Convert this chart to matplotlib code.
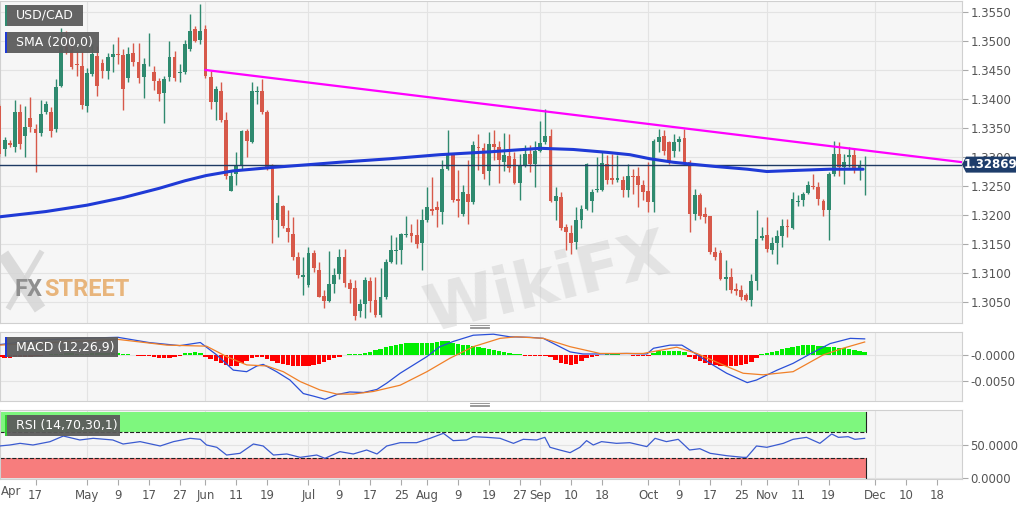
import numpy as np
import pandas as pd
import matplotlib
matplotlib.use('Agg')
import matplotlib.pyplot as plt
from matplotlib.patches import Rectangle, Polygon
from matplotlib.lines import Line2D
from matplotlib.transforms import IdentityTransform

# ---------------- data (x = trading days relative to 2019-05-01) ----------------
first_day = -17  # 2019-04-08
opens = [1.3388, 1.3314, 1.3325, 1.3317, 1.3377, 1.3337, 1.3367, 1.3349, 1.3341, 1.3377,
         1.3377, 1.3348, 1.3423, 1.3489, 1.3484, 1.3461, 1.3457,
         1.3388, 1.3443, 1.3474, 1.3462, 1.3449, 1.3473, 1.3478, 1.3476, 1.3437, 1.3480,
         1.3463, 1.3438, 1.3460, 1.3446, 1.3431, 1.3411, 1.3438, 1.3473, 1.3444, 1.3446,
         1.3486, 1.3520, 1.3501,
         1.3520, 1.3438, 1.3394, 1.3414, 1.3363, 1.3242, 1.3270, 1.3284, 1.3344, 1.3326,
         1.3412, 1.3413, 1.3377, 1.3282, 1.3191, 1.3216, 1.3178, 1.3168, 1.3128, 1.3094,
         1.3079, 1.3135, 1.3106, 1.3060, 1.3052, 1.3081, 1.3099, 1.3128, 1.3082, 1.3074,
         1.3035, 1.3047, 1.3087, 1.3053, 1.3028, 1.3059, 1.3119, 1.3138, 1.3140, 1.3165,
         1.3169, 1.3165, 1.3152, 1.3191, 1.3211, 1.3214, 1.3206, 1.3280, 1.3303, 1.3228,
         1.3202, 1.3237, 1.3222, 1.3318, 1.3316, 1.3276, 1.3323, 1.3318, 1.3291, 1.3301,
         1.3297, 1.3255, 1.3284, 1.3306, 1.3288, 1.3311, 1.3326, 1.3337, 1.3224, 1.3231,
         1.3180, 1.3169, 1.3153, 1.3191, 1.3211, 1.3224, 1.3243, 1.3244, 1.3288, 1.3263,
         1.3261, 1.3261, 1.3243, 1.3268, 1.3268, 1.3251, 1.3242,
         1.3222, 1.3326, 1.3337, 1.3326, 1.3310, 1.3326, 1.3333, 1.3291, 1.3202, 1.3234,
         1.3201, 1.3198, 1.3136, 1.3135, 1.3090, 1.3093, 1.3072, 1.3070, 1.3062, 1.3054,
         1.3087, 1.3161, 1.3165, 1.3139, 1.3152, 1.3163, 1.3181, 1.3178, 1.3223, 1.3226,
         1.3238, 1.3250, 1.3249, 1.3225, 1.3208, 1.3270, 1.3305, 1.3282, 1.3300, 1.3303,
         1.3280, 1.3284]
highs = [1.3392, 1.3334, 1.3329, 1.3399, 1.3391, 1.3388, 1.3403, 1.3357, 1.3398, 1.3397,
         1.3386, 1.3434, 1.3523, 1.3518, 1.3500, 1.3483, 1.3483,
         1.3454, 1.3494, 1.3492, 1.3469, 1.3480, 1.3494, 1.3506, 1.3486, 1.3489, 1.3497,
         1.3497, 1.3471, 1.3514, 1.3457, 1.3437, 1.3440, 1.3500, 1.3483, 1.3460, 1.3501,
         1.3546, 1.3526, 1.3564,
         1.3528, 1.3449, 1.3423, 1.3429, 1.3377, 1.3277, 1.3308, 1.3346, 1.3348, 1.3430,
         1.3423, 1.3434, 1.3381, 1.3288, 1.3234, 1.3217, 1.3208, 1.3197, 1.3137, 1.3128,
         1.3145, 1.3139, 1.3119, 1.3070, 1.3138, 1.3108, 1.3142, 1.3142, 1.3090, 1.3088,
         1.3056, 1.3093, 1.3093, 1.3093, 1.3109, 1.3125, 1.3165, 1.3162, 1.3169, 1.3199,
         1.3185, 1.3193, 1.3211, 1.3249, 1.3265, 1.3225, 1.3294, 1.3346, 1.3306, 1.3277,
         1.3251, 1.3294, 1.3327, 1.3340, 1.3325, 1.3343, 1.3347, 1.3328, 1.3341, 1.3340,
         1.3308, 1.3306, 1.3320, 1.3320, 1.3328, 1.3362, 1.3383, 1.3348, 1.3248, 1.3239,
         1.3185, 1.3182, 1.3214, 1.3217, 1.3289, 1.3245, 1.3300, 1.3308, 1.3303, 1.3306,
         1.3304, 1.3268, 1.3288, 1.3280, 1.3282, 1.3260, 1.3291,
         1.3331, 1.3348, 1.3346, 1.3328, 1.3339, 1.3337, 1.3348, 1.3294, 1.3245, 1.3238,
         1.3214, 1.3199, 1.3145, 1.3139, 1.3122, 1.3108, 1.3082, 1.3079, 1.3065, 1.3099,
         1.3208, 1.3179, 1.3196, 1.3162, 1.3174, 1.3194, 1.3194, 1.3240, 1.3234, 1.3240,
         1.3258, 1.3270, 1.3257, 1.3228, 1.3274, 1.3327, 1.3326, 1.3305, 1.3318, 1.3316,
         1.3294, 1.3301]
lows = [1.3300, 1.3302, 1.3317, 1.3308, 1.3314, 1.3300, 1.3343, 1.3274, 1.3337, 1.3374,
        1.3334, 1.3343, 1.3420, 1.3477, 1.3451, 1.3440, 1.3383,
        1.3377, 1.3440, 1.3406, 1.3437, 1.3434, 1.3446, 1.3460, 1.3381, 1.3429, 1.3457,
        1.3427, 1.3401, 1.3457, 1.3415, 1.3397, 1.3358, 1.3431, 1.3431, 1.3429, 1.3443,
        1.3483, 1.3498, 1.3494,
        1.3437, 1.3383, 1.3363, 1.3360, 1.3262, 1.3241, 1.3251, 1.3280, 1.3300, 1.3324,
        1.3391, 1.3374, 1.3278, 1.3151, 1.3162, 1.3177, 1.3154, 1.3122, 1.3091, 1.3062,
        1.3076, 1.3102, 1.3058, 1.3039, 1.3050, 1.3065, 1.3090, 1.3076, 1.3048, 1.3019,
        1.3025, 1.3022, 1.3033, 1.3025, 1.3025, 1.3056, 1.3117, 1.3116, 1.3116, 1.3162,
        1.3154, 1.3144, 1.3106, 1.3188, 1.3200, 1.3180, 1.3185, 1.3277, 1.3222, 1.3197,
        1.3199, 1.3185, 1.3219, 1.3277, 1.3262, 1.3251, 1.3294, 1.3255, 1.3276, 1.3274,
        1.3253, 1.3226, 1.3283, 1.3274, 1.3248, 1.3308, 1.3323, 1.3222, 1.3192, 1.3174,
        1.3139, 1.3133, 1.3142, 1.3177, 1.3208, 1.3205, 1.3240, 1.3242, 1.3254, 1.3254,
        1.3257, 1.3231, 1.3231, 1.3237, 1.3214, 1.3226, 1.3205,
        1.3205, 1.3308, 1.3304, 1.3288, 1.3300, 1.3311, 1.3288, 1.3171, 1.3192, 1.3194,
        1.3186, 1.3133, 1.3123, 1.3088, 1.3070, 1.3066, 1.3062, 1.3053, 1.3052, 1.3043,
        1.3071, 1.3157, 1.3136, 1.3133, 1.3115, 1.3145, 1.3162, 1.3176, 1.3215, 1.3215,
        1.3236, 1.3245, 1.3217, 1.3199, 1.3157, 1.3268, 1.3268, 1.3254, 1.3282, 1.3272,
        1.3260, 1.3234]
closes = [1.3305, 1.3329, 1.3321, 1.3377, 1.3323, 1.3351, 1.3352, 1.3341, 1.3374, 1.3391,
          1.3345, 1.3421, 1.3489, 1.3482, 1.3455, 1.3459, 1.3390,
          1.3444, 1.3477, 1.3423, 1.3449, 1.3473, 1.3478, 1.3476, 1.3417, 1.3477, 1.3463,
          1.3437, 1.3461, 1.3461, 1.3431, 1.3408, 1.3434, 1.3473, 1.3437, 1.3446, 1.3494,
          1.3517, 1.3500, 1.3517,
          1.3440, 1.3394, 1.3417, 1.3363, 1.3268, 1.3268, 1.3284, 1.3344, 1.3328, 1.3414,
          1.3414, 1.3377, 1.3282, 1.3191, 1.3220, 1.3181, 1.3171, 1.3128, 1.3096, 1.3096,
          1.3134, 1.3108, 1.3059, 1.3052, 1.3081, 1.3096, 1.3127, 1.3082, 1.3073, 1.3026,
          1.3047, 1.3088, 1.3052, 1.3028, 1.3058, 1.3119, 1.3139, 1.3140, 1.3167, 1.3167,
          1.3164, 1.3150, 1.3191, 1.3214, 1.3207, 1.3208, 1.3280, 1.3303, 1.3226, 1.3224,
          1.3239, 1.3222, 1.3320, 1.3316, 1.3271, 1.3323, 1.3318, 1.3294, 1.3304, 1.3281,
          1.3255, 1.3284, 1.3305, 1.3288, 1.3311, 1.3325, 1.3337, 1.3225, 1.3232, 1.3177,
          1.3171, 1.3152, 1.3192, 1.3211, 1.3288, 1.3240, 1.3245, 1.3289, 1.3260, 1.3261,
          1.3263, 1.3244, 1.3268, 1.3266, 1.3251, 1.3240, 1.3222,
          1.3328, 1.3335, 1.3311, 1.3291, 1.3326, 1.3331, 1.3291, 1.3201, 1.3235, 1.3198,
          1.3197, 1.3136, 1.3127, 1.3090, 1.3094, 1.3070, 1.3069, 1.3059, 1.3054, 1.3087,
          1.3158, 1.3164, 1.3142, 1.3152, 1.3163, 1.3181, 1.3179, 1.3228, 1.3225, 1.3237,
          1.3251, 1.3248, 1.3228, 1.3208, 1.3270, 1.3305, 1.3282, 1.3291, 1.3303, 1.3280,
          1.3284, 1.32869]

sma_days = [-16.9, -8, 0, 7, 14, 19, 23.1, 28.3, 35.9, 43.3, 49.1, 58.8, 68.5, 78.3, 88.0,
            94.4, 101.0, 105.4, 109.3, 113.8, 117.0, 121.6, 128.2, 132.0, 137.9, 144.3, 150.7]
sma_vals = [1.3197, 1.3206, 1.3217, 1.3230, 1.3246, 1.3259, 1.3268, 1.3276, 1.3282, 1.3287,
            1.3291, 1.3297, 1.3304, 1.3309, 1.3315, 1.3313, 1.3308, 1.3304, 1.3297, 1.3291,
            1.3288, 1.3284, 1.3279, 1.3275, 1.3277, 1.3279, 1.3279]

trend_days = [23, 170]
trend_vals = [1.3450, 1.3291]

macd_days = [-17, -10, -2, 6, 12, 18, 22, 25.2, 28.4, 31, 33, 34.2, 36.8, 39.4, 42, 44, 46.2,
             48.5, 51, 53.7, 56.3, 58.2, 60.8, 63.4, 66, 68.5, 71.1, 75, 78.9, 82.1, 86, 88.6,
             91.2, 93.8, 96.3, 99.6, 104.8, 108.7, 110, 113.2, 115.5, 117, 121, 124.2, 128.2,
             130, 134, 137.1, 140.4, 144.3, 148.2, 151]
macd_vals = [0.0020, 0.0028, 0.0032, 0.0034, 0.0024, 0.0018, 0.0024, 0.0000, -0.0029, -0.0032,
             -0.0021, -0.0018, -0.0032, -0.0048, -0.0074, -0.0079, -0.0085, -0.0076, -0.0071,
             -0.0072, -0.0066, -0.0054, -0.0035, -0.0019, -0.0003, 0.0016, 0.0026, 0.0038,
             0.0040, 0.0035, 0.0034, 0.0032, 0.0019, 0.0006, 0.0002, 0.0002, 0.0003, 0.0002,
             0.0013, 0.0019, 0.0019, 0.0010, -0.0016, -0.0035, -0.0053, -0.0048, -0.0029,
             -0.0016, 0.0002, 0.0022, 0.0032, 0.0031]
signal_days = [-17, 6, 15.5, 23.2, 27.1, 31, 34.9, 38.1, 41.4, 45.2, 48.5, 51.7, 55.6, 60.8,
               66, 70.5, 75, 80.2, 83.4, 88.6, 93.8, 99.6, 108, 114.5, 118.4, 123.5, 127.4,
               131.3, 137.1, 142.9, 146.8, 151]
signal_vals = [0.0019, 0.0030, 0.0019, 0.0017, -0.0003, -0.0019, -0.0021, -0.0032, -0.0051,
               -0.0067, -0.0075, -0.0075, -0.0070, -0.0058, -0.0032, -0.0006, 0.0016, 0.0032,
               0.0035, 0.0032, 0.0016, 0.0003, 0.0003, 0.0015, 0.0003, -0.0019, -0.0035,
               -0.0038, -0.0032, 0.0000, 0.0013, 0.0025]
hist_vals = [-0.0004, -0.0005, -0.0005, -0.0004, -0.0004, -0.0003, -0.0003,
             -0.0002, -0.0001, 0.0000, 0.0001, 0.0002, 0.0002, 0.0003, 0.0003, 0.0002, 0.0002,
             0.0002, 0.0003, 0.0003, 0.0003, 0.0003, 0.0003, 0.0003,
             0.0001, 0.0001, 0.0000, -0.0001, -0.0001,
             -0.0002, -0.0004, -0.0005, -0.0006, -0.0005, -0.0004, -0.0002,
             0.0003, 0.0004, 0.0005, 0.0004,
             -0.0003, -0.0008, -0.0012, -0.0016, -0.0020, -0.0022, -0.0021, -0.0016, -0.0011,
             -0.0006, -0.0003,
             -0.0004, -0.0008, -0.0012, -0.0015, -0.0018, -0.0019, -0.0021, -0.0022, -0.0022,
             -0.0021, -0.0019, -0.0017, -0.0014, -0.0010, -0.0006, -0.0003,
             0.0000, 0.0001, 0.0001, 0.0001,
             0.0003, 0.0006, 0.0009, 0.0012, 0.0015, 0.0018, 0.0020, 0.0022, 0.0023, 0.0023,
             0.0023, 0.0024, 0.0024, 0.0024, 0.0025, 0.0027, 0.0027, 0.0024, 0.0022, 0.0020,
             0.0019, 0.0017, 0.0015, 0.0013, 0.0011, 0.0009, 0.0007, 0.0006, 0.0004, 0.0002,
             0.0001,
             -0.0001, -0.0001, -0.0001, -0.0001, -0.0002,
             -0.0004, -0.0010, -0.0015, -0.0018, -0.0019, -0.0017, -0.0012, -0.0006,
             -0.0003, -0.0001, 0.0000, 0.0001, 0.0001, 0.0001, 0.0000, 0.0000, -0.0001, -0.0001,
             -0.0002,
             -0.0001,
             0.0004, 0.0007, 0.0008, 0.0008, 0.0008, 0.0007, 0.0005,
             -0.0004, -0.0008, -0.0012, -0.0016, -0.0019, -0.0020, -0.0021, -0.0021, -0.0021,
             -0.0021, -0.0020, -0.0017, -0.0013, -0.0005,
             0.0002, 0.0004, 0.0006, 0.0008, 0.0011, 0.0014, 0.0016, 0.0018, 0.0019, 0.0019,
             0.0019, 0.0018, 0.0017, 0.0016, 0.0015, 0.0014, 0.0013, 0.0011, 0.0009, 0.0007,
             0.0005]

rsi_days = [-17, -15, -13, -10.5, -7.2, -4.6, -1.4, 1.2, 5, 7, 10.3, 14.2, 16.8, 20, 22, 23.2,
            25.2, 27.1, 29.7, 32.3, 34.2, 36.2, 38.8, 41.4, 44.6, 46.2, 49.1, 51.7, 54.3, 56.3,
            58.2, 60.8, 64, 66.6, 69.2, 71.1, 73.7, 75, 77.6, 80.2, 82.8, 84.7, 87.3, 88.9,
            89.9, 91.8, 93.8, 95.7, 97, 98.3, 99.9, 102.8, 105.4, 108.7, 110.3, 112.5, 114.8,
            117, 119, 121, 124.2, 127.4, 128.1, 130, 132, 135.2, 137.1, 139.7, 142.3, 144.6,
            145.9, 147.8, 149.1, 151]
rsi_vals = [48.5, 50, 52.5, 50, 55, 63.6, 57.6, 60.1, 57.6, 51.5, 55.1, 48.5, 55.1, 60.1, 58.6,
            50, 46.5, 34.8, 37.4, 51.5, 48.5, 34.8, 36.4, 31.3, 34.8, 29.8, 39.9, 36.4, 42.4,
            36.4, 48.5, 53.5, 53.5, 60.1, 67.7, 56.6, 57.6, 62.6, 61.6, 60.1, 52.5, 58.6, 57.6,
            61.6, 46.5, 42.4, 38.4, 46.5, 56.6, 50, 55.1, 52.5, 53.5, 47.5, 60.1, 55.1, 58.6,
            42.4, 44.4, 37.4, 33.8, 31.3, 31.3, 48.5, 46.5, 52.5, 58.6, 61.6, 52.5, 66.7, 61.6,
            62.6, 58.6, 60.1]

price_ticks = [1.3050, 1.3100, 1.3150, 1.3200, 1.3250, 1.3300, 1.3350, 1.3400, 1.3450,
               1.3500, 1.3550]
macd_ticks = [0.0, -0.005]
macd_tick_labels = ['-0.0000', '-0.0050']
rsi_ticks = [0, 50]
rsi_tick_labels = ['0.0000', '50.0000']
rsi_upper, rsi_lower = 70, 30

tick_dates = ['2019-04-17', '2019-05-01', '2019-05-09', '2019-05-17', '2019-05-27',
              '2019-06-03', '2019-06-11', '2019-06-19', '2019-07-01', '2019-07-09',
              '2019-07-17', '2019-07-25', '2019-08-01', '2019-08-09', '2019-08-19',
              '2019-08-27', '2019-09-02', '2019-09-10', '2019-09-18', '2019-10-01',
              '2019-10-09', '2019-10-17', '2019-10-25', '2019-11-01', '2019-11-11',
              '2019-11-19', '2019-12-02', '2019-12-10', '2019-12-18']
tick_labels = ['17', 'May', '9', '17', '27', 'Jun', '11', '19', 'Jul', '9', '17', '25', 'Aug',
               '9', '19', '27', 'Sep', '10', '18', 'Oct', '9', '17', '25', 'Nov', '11', '19',
               'Dec', '10', '18']
month_dates = ['2019-05-01', '2019-06-03', '2019-07-01', '2019-08-01', '2019-09-02',
               '2019-10-01', '2019-11-01', '2019-12-02']

# ---------------- setup ----------------
plt.rcParams['font.family'] = ['DejaVu Sans']
W, H = 1032, 505
fig = plt.figure(figsize=(W / 100, H / 100), dpi=100, facecolor='white')


def fx(px):
    return px / W


def fy(py):
    return 1 - py / H


bdays = pd.bdate_range('2019-04-08', '2019-12-31')


def day_of(s):
    return bdays.get_loc(pd.Timestamp(s)) + first_day


tick_pos = [day_of(s) for s in tick_dates]
month_pos = [day_of(s) for s in month_dates]

XL = (-16.9, 169.9)
BG = '#f6f6f6'
GRID = '#e3e3e3'
SPINE = '#d0d0d0'
LBL = '#555555'

ax = fig.add_axes([0, fy(323), fx(962), fy(1) - fy(323)])
axm = fig.add_axes([0, fy(401), fx(962), fy(332) - fy(401)])
axr = fig.add_axes([0, fy(479), fx(962), fy(410) - fy(479)])

for a in (ax, axm, axr):
    a.set_facecolor(BG)
    a.set_xlim(*XL)
    for s in a.spines.values():
        s.set_color(SPINE)
        s.set_linewidth(0.8)
    a.yaxis.tick_right()
    a.tick_params(axis='y', length=4, width=0.8, color='#aaaaaa', labelsize=8.5,
                  labelcolor=LBL, pad=2)
    for m in month_pos:
        a.axvline(m, color=GRID, lw=0.8, zorder=0)
    a.set_axisbelow(True)

# ---------------- watermarks (behind data) ----------------
# FXStreet "X" emblem drawn as two strokes (a shape, not text)
for (xa, ya, xb, yb, lw) in ((3, 254, 40, 309, 9), (42, 251, 8, 309, 4)):
    fig.add_artist(Line2D([fx(xa), fx(xb)], [fy(ya), fy(yb)], transform=fig.transFigure,
                          color='#d4d4d4', lw=lw, alpha=0.8, zorder=1,
                          solid_capstyle='butt'))
ax.text(0.568, 0.12, 'WikiFX', transform=ax.transAxes, ha='center', va='center',
        fontsize=46, fontweight='bold', color='#c4c4c4', alpha=0.38, rotation=14,
        zorder=1, clip_on=False)

# ---------------- main price panel ----------------
x = np.arange(first_day, first_day + len(closes))
o = np.array(opens); h = np.array(highs); l = np.array(lows); c = np.array(closes)
UP, DN = '#2f8a6f', '#d7594a'
cols = [UP if cc >= oo else DN for oo, cc in zip(o, c)]
ax.vlines(x, l, h, colors=cols, lw=1.0, zorder=3)
ax.bar(x, np.maximum(np.abs(c - o), 0.00005), bottom=np.minimum(o, c), width=0.74,
       color=cols, linewidth=0, zorder=4)

ax.plot(sma_days, sma_vals, color='#1f3ad6', lw=2.2, zorder=5, solid_capstyle='round',
        solid_joinstyle='round')
ax.plot(trend_days, trend_vals, color='#ff00ff', lw=1.6, zorder=5)
last = closes[-1]
ax.axhline(last, color='#1e3a63', lw=1.0, zorder=4)

ax.set_ylim(1.30139, 1.35689)
ax.set_yticks(price_ticks)
ax.set_yticklabels(['%.4f' % v for v in price_ticks])
ax.grid(axis='y', color=GRID, lw=0.8)
ax.set_xticks([])

# ---------------- MACD panel ----------------
hcols = ['#00ee00' if v >= 0 else '#ff0000' for v in hist_vals]
axm.bar(x, hist_vals, width=0.85, color=hcols, linewidth=0, zorder=3)
axm.plot(macd_days, macd_vals, color='#2a4fd8', lw=0.9, zorder=4)
axm.plot(signal_days, signal_vals, color='#f08028', lw=0.9, zorder=4)
axm.set_ylim(-0.00883, 0.00442)
axm.set_yticks(macd_ticks)
axm.set_yticklabels(macd_tick_labels)
axm.grid(axis='y', color=GRID, lw=0.8)
axm.set_xticks([])

# ---------------- RSI panel ----------------
band_end = x[-1] + 0.3
axr.fill_between([XL[0], band_end], rsi_upper, 100, color='#7ef77e', zorder=1, lw=0)
axr.fill_between([XL[0], band_end], 0, rsi_lower, color='#f77d7d', zorder=1, lw=0)
axr.plot([XL[0], band_end], [rsi_upper, rsi_upper], ls='--', color='#222222', lw=0.8, zorder=2)
axr.plot([XL[0], band_end], [rsi_lower, rsi_lower], ls='--', color='#222222', lw=0.8, zorder=2)
axr.plot([band_end, band_end], [rsi_upper, 100], color='#222222', lw=0.8, zorder=2)
axr.plot([band_end, band_end], [0, rsi_lower], color='#222222', lw=0.8, zorder=2)
axr.plot(rsi_days, rsi_vals, color='#3b5bd0', lw=0.9, zorder=4)
axr.set_ylim(-1.5, 103)
axr.set_yticks(rsi_ticks)
axr.set_yticklabels(rsi_tick_labels)
axr.grid(axis='y', color=GRID, lw=0.8)
axr.set_xticks(tick_pos)
axr.set_xticklabels(tick_labels)
axr.tick_params(axis='x', length=4, width=0.8, color='#aaaaaa', labelsize=8.5,
                labelcolor=LBL, pad=3)
fig.text(fx(1), fy(492), 'Apr', ha='left', va='center', fontsize=8.5, color=LBL)

# ---------------- label boxes ----------------
def label_box(x0, y0, x1, y1, text, accent):
    fig.add_artist(Rectangle((fx(x0), fy(y1)), fx(x1) - fx(x0), fy(y0) - fy(y1),
                             transform=fig.transFigure, facecolor='#5c5c5c', alpha=0.95,
                             edgecolor='none', zorder=10))
    fig.add_artist(Rectangle((fx(x0), fy(y1)), fx(2.2), fy(y0) - fy(y1),
                             transform=fig.transFigure, facecolor=accent,
                             edgecolor='none', zorder=11))
    fig.text(fx(x0 + 11), fy((y0 + y1) / 2), text, ha='left', va='center', fontsize=9,
             color='white', zorder=12)


label_box(5, 5, 83, 26, 'USD/CAD', '#2f8a6f')
label_box(5, 32, 99, 53, 'SMA (200,0)', '#1f3ad6')
label_box(5, 337, 118, 357, 'MACD (12,26,9)', '#1f3ad6')
label_box(5, 415, 120, 436, 'RSI (14,70,30,1)', '#33cc33')

# panel divider handles
for yy in (326.5, 404.5):
    for dy in (-1.2, 0, 1.2):
        fig.add_artist(Line2D([fx(470), fx(489)], [fy(yy + dy), fy(yy + dy)],
                              transform=fig.transFigure, color='#888888', lw=0.6))

# ---------------- FXSTREET logo text ----------------
fig.canvas.draw()
renderer = fig.canvas.get_renderer()
t_fx = fig.text(fx(15), fy(290), 'FX', ha='left', va='center', fontsize=17,
                fontweight='bold', family=['Roboto', 'DejaVu Sans'], color='#8f8f8f', zorder=2)
bb = t_fx.get_window_extent(renderer=renderer)
x_next = fig.transFigure.inverted().transform((bb.x1 + 1, 0))[0]
fig.text(x_next, fy(290), 'STREET', ha='left', va='center', fontsize=17, fontweight='bold',
         family=['Roboto', 'DejaVu Sans'], color='#e8b57c', zorder=2)

# ---------------- current price label ----------------
px_right, py = ax.transData.transform((XL[1], last))
bx0 = px_right + 4
pts = [(px_right, py), (bx0, py + 8), (bx0 + 50, py + 8), (bx0 + 50, py - 8), (bx0, py - 8)]
fig.add_artist(Polygon(pts, closed=True, transform=IdentityTransform(), facecolor='#1e3d6b',
                       edgecolor='none', zorder=20))
tx, ty = fig.transFigure.inverted().transform((bx0 + 25, py))
fig.text(tx, ty, '%.5f' % last, ha='center', va='center', fontsize=8.5, fontweight='bold',
         color='white', zorder=21)

fig.savefig('out.png', dpi=100, facecolor='white')
